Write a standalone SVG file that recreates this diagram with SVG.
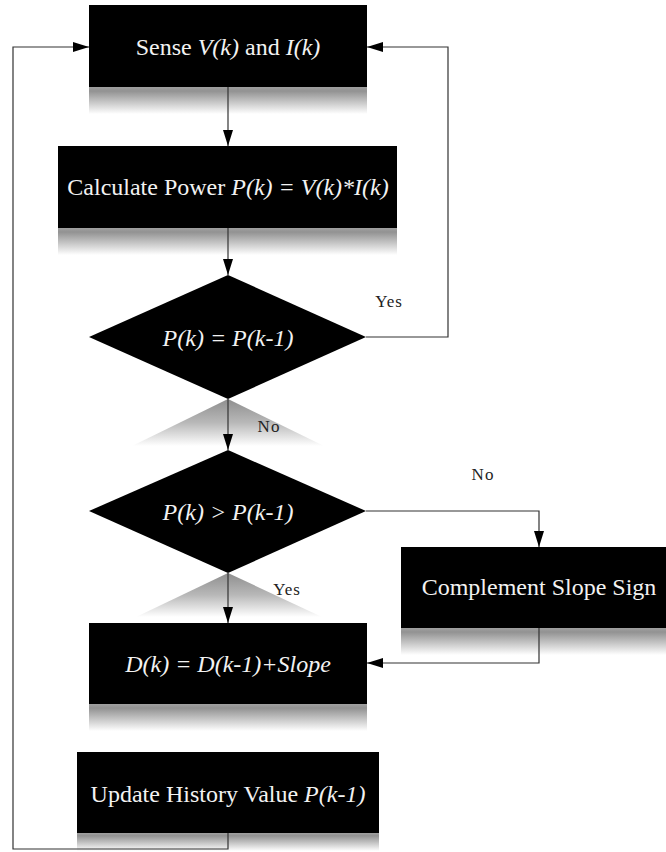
<svg xmlns="http://www.w3.org/2000/svg" width="666" height="852" viewBox="0 0 666 852">
<style>
.box{fill:#000}
.t{font-family:"Liberation Serif","Times New Roman",serif;font-size:24px;fill:#f2f2f2;text-anchor:middle}
.i{font-style:italic}
.lbl{font-family:"Liberation Serif","Times New Roman",serif;font-size:17px;fill:#222;text-anchor:middle;letter-spacing:1px}
.c{fill:none;stroke:#333;stroke-width:1.2}
</style>
<defs>
<linearGradient id="sh" x1="0" y1="0" x2="0" y2="1">
<stop offset="0" stop-color="#a0a0a0"/>
<stop offset="0.15" stop-color="#929292"/>
<stop offset="1" stop-color="#ffffff"/>
</linearGradient>
<linearGradient id="rf" x1="0" y1="0" x2="0" y2="1">
<stop offset="0" stop-color="#8e8e8e"/>
<stop offset="0.5" stop-color="#b8b8b8"/>
<stop offset="1" stop-color="#ffffff"/>
</linearGradient>
<marker id="ah" markerUnits="userSpaceOnUse" markerWidth="16" markerHeight="10" refX="16" refY="5" orient="auto">
<path d="M0,0 L16,5 L0,10 z" fill="#000"/>
</marker>
</defs>

<g id="sense">
<rect x="89" y="87" width="278" height="27" fill="url(#sh)"/>
<rect class="box" x="89" y="5" width="278" height="82"/>
<text class="t" x="228" y="55">Sense <tspan class="i">V(k)</tspan> and <tspan class="i">I(k)</tspan></text>
</g>

<g id="power">
<rect x="58" y="228" width="339" height="27" fill="url(#sh)"/>
<rect class="box" x="58" y="146" width="339" height="82"/>
<text class="t" x="228" y="195">Calculate Power <tspan class="i">P(k) = V(k)*I(k)</tspan></text>
</g>

<g id="decision1">
<polygon points="228,399 324,446 132,446" fill="url(#rf)"/>
<polygon class="box" points="228,275 366,337 228,399 89,337"/>
<text class="t i" x="228" y="346">P(k) = P(k-1)</text>
</g>

<g id="decision2">
<polygon points="228,573 322,617 136,617" fill="url(#rf)"/>
<polygon class="box" points="228,450 366,511 228,573 89,511"/>
<text class="t i" x="228" y="520">P(k) &gt; P(k-1)</text>
</g>

<g id="complement">
<rect x="401" y="628" width="276" height="27" fill="url(#sh)"/>
<rect class="box" x="401" y="547" width="276" height="81"/>
<text class="t" x="539" y="595">Complement Slope Sign</text>
</g>

<g id="duty">
<rect x="89" y="704" width="278" height="27" fill="url(#sh)"/>
<rect class="box" x="89" y="623" width="278" height="81"/>
<text class="t i" x="228" y="672">D(k) = D(k-1)+Slope</text>
</g>

<g id="update">
<rect x="77" y="833" width="302" height="18" fill="url(#sh)"/>
<rect class="box" x="77" y="752" width="302" height="81"/>
<text class="t" x="228" y="802">Update History Value <tspan class="i">P(k-1)</tspan></text>
</g>

<g id="connectors">
<path class="c" d="M228,87 V146" marker-end="url(#ah)"/>
<path class="c" d="M228,228 V275" marker-end="url(#ah)"/>
<path class="c" d="M366,337 H448 V47 H367" marker-end="url(#ah)"/>
<path class="c" d="M228,399 V450" marker-end="url(#ah)"/>
<path class="c" d="M366,511 H539 V547" marker-end="url(#ah)"/>
<path class="c" d="M228,573 V623" marker-end="url(#ah)"/>
<path class="c" d="M539,628 V663 H367" marker-end="url(#ah)"/>
<path class="c" d="M228,833 V849 H13 V47 H89" marker-end="url(#ah)"/>
<text class="lbl" x="389" y="307">Yes</text>
<text class="lbl" x="269" y="432">No</text>
<text class="lbl" x="483" y="480">No</text>
<text class="lbl" x="287" y="595">Yes</text>
</g>
</svg>
